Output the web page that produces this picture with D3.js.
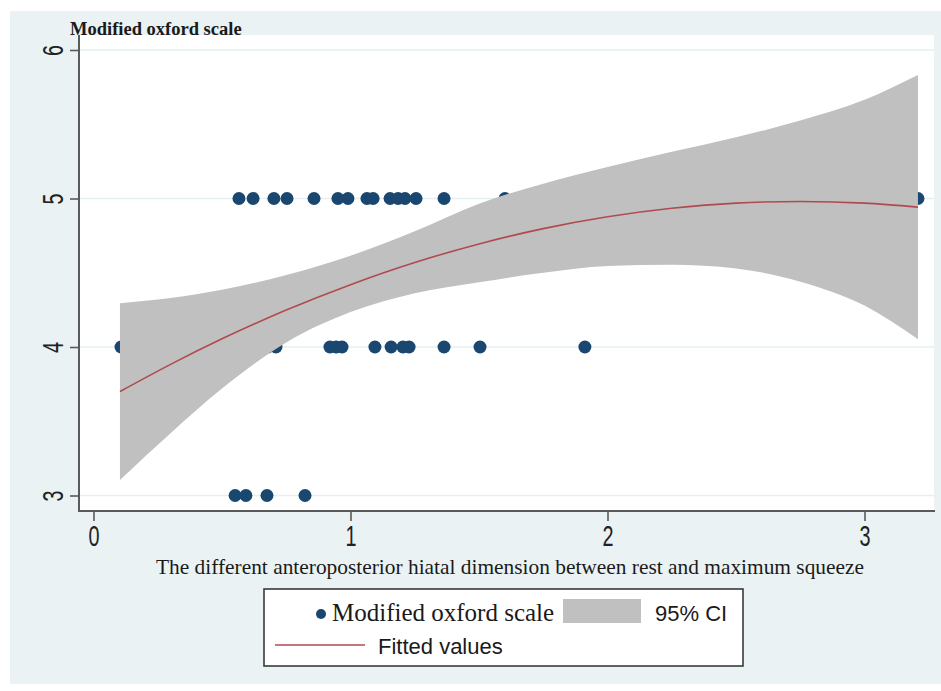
<!DOCTYPE html>
<html>
<head>
<meta charset="utf-8">
<script src="https://cdn.jsdelivr.net/npm/d3@7"></script>
<style>
  html, body { margin: 0; padding: 0; background: #ffffff; }
  svg { display: block; }
</style>
</head>
<body>
<svg id="chart" width="941" height="691"></svg>
<script>
// Observed pairs: hiatal dimension difference vs. modified Oxford scale
const dimensionDiff = [
  0.566, 0.621, 0.702, 0.753, 0.858, 0.951, 0.990, 1.064, 1.088, 1.154, 1.185, 1.212, 1.255, 1.364, 1.601, 3.208,
  0.107, 0.679, 0.710, 0.920, 0.944, 0.967, 1.095, 1.158, 1.204, 1.228, 1.364, 1.504, 1.912,
  0.551, 0.593, 0.675, 0.823
];
const oxfordScale = [
  5, 5, 5, 5, 5, 5, 5, 5, 5, 5, 5, 5, 5, 5, 5, 5,
  4, 4, 4, 4, 4, 4, 4, 4, 4, 4, 4, 4, 4,
  3, 3, 3, 3
];

// Quadratic fit with its 95% confidence band, sampled along x
const fitX     = [0.103, 0.3, 0.5, 0.75, 1.0, 1.25, 1.5, 1.75, 2.0, 2.25, 2.5, 2.75, 3.0, 3.208];
const fitted   = [3.700, 3.883, 4.055, 4.249, 4.420, 4.569, 4.694, 4.797, 4.877, 4.934, 4.969, 4.980, 4.969, 4.942];
const ciUpper  = [4.295, 4.330, 4.385, 4.485, 4.615, 4.780, 4.965, 5.100, 5.212, 5.314, 5.412, 5.525, 5.665, 5.832];
const ciLower  = [3.105, 3.420, 3.720, 4.030, 4.235, 4.362, 4.436, 4.500, 4.545, 4.554, 4.529, 4.440, 4.279, 4.052];

const xTicks = [0, 1, 2, 3];
const yTicks = [3, 4, 5, 6];

const yTitle = "Modified oxford scale";
const xTitle = "The different anteroposterior hiatal dimension between rest and maximum squeeze";
const legendLabels = ["Modified oxford scale", "95% CI", "Fitted values"];

const colors = {
  outer: "#eaf2f3",
  grid: "#e6eff1",
  axis: "#5a5a5a",
  dot: "#1a476f",
  ci: "#c0c0c0",
  fit: "#b04a50"
};

const svg = d3.select("#chart");

// plot frame
const plot = { left: 79, right: 934, top: 35, bottom: 511 };

const x = d3.scaleLinear().domain([0, 3]).range([93.5, 864.5]);
const y = d3.scaleLinear().domain([3, 6]).range([495.5, 50]);

// outer panel and plot region
svg.append("rect").attr("x", 10).attr("y", 11).attr("width", 931).attr("height", 673).attr("fill", colors.outer);
svg.append("rect").attr("x", plot.left).attr("y", plot.top)
  .attr("width", plot.right - plot.left).attr("height", plot.bottom - plot.top).attr("fill", "#ffffff");

// horizontal grid
svg.append("g").selectAll("line").data(yTicks).join("line")
  .attr("x1", plot.left + 1).attr("x2", plot.right)
  .attr("y1", d => y(d)).attr("y2", d => y(d))
  .attr("stroke", colors.grid).attr("stroke-width", 1.6);

// scatter points
svg.append("g").selectAll("circle").data(dimensionDiff).join("circle")
  .attr("cx", d => x(d))
  .attr("cy", (d, i) => y(oxfordScale[i]))
  .attr("r", 6.5)
  .attr("fill", colors.dot);

// confidence band
const band = fitX.map((v, i) => ({ x: v, lo: ciLower[i], hi: ciUpper[i], f: fitted[i] }));
svg.append("path").datum(band)
  .attr("d", d3.area().curve(d3.curveMonotoneX)
    .x(d => x(d.x)).y0(d => y(d.lo)).y1(d => y(d.hi)))
  .attr("fill", colors.ci);

// fitted line
svg.append("path").datum(band)
  .attr("d", d3.line().curve(d3.curveMonotoneX).x(d => x(d.x)).y(d => y(d.f)))
  .attr("fill", "none").attr("stroke", colors.fit).attr("stroke-width", 1.6);

// axes lines
svg.append("line").attr("x1", plot.left).attr("x2", plot.left)
  .attr("y1", plot.top).attr("y2", plot.bottom + 1)
  .attr("stroke", colors.axis).attr("stroke-width", 2);
svg.append("line").attr("x1", plot.left).attr("x2", plot.right + 1)
  .attr("y1", plot.bottom).attr("y2", plot.bottom)
  .attr("stroke", colors.axis).attr("stroke-width", 2);

const tickFont = "'Liberation Sans Narrow', 'Liberation Sans', Arial, sans-serif";

// x axis ticks and condensed labels
const xAxis = svg.append("g").attr("transform", `translate(0,${plot.bottom})`)
  .call(d3.axisBottom(x).tickValues(xTicks).tickSize(10).tickFormat(d3.format("d")));
xAxis.select(".domain").remove();
xAxis.selectAll(".tick line").attr("stroke", colors.axis).attr("stroke-width", 1.6);
xAxis.selectAll(".tick text")
  .attr("font-family", tickFont)
  .attr("font-size", 30).attr("fill", "#222")
  .attr("y", 0).attr("dy", null)
  .attr("transform", "translate(0,35) scale(0.66,1)");

// y axis ticks and rotated labels
const yAxis = svg.append("g").attr("transform", `translate(${plot.left},0)`)
  .call(d3.axisLeft(y).tickValues(yTicks).tickSize(9).tickFormat(d3.format("d")));
yAxis.select(".domain").remove();
yAxis.selectAll(".tick line").attr("stroke", colors.axis).attr("stroke-width", 1.6);
yAxis.selectAll(".tick text")
  .attr("font-family", tickFont)
  .attr("font-size", 29).attr("fill", "#222")
  .attr("text-anchor", "middle")
  .attr("x", null).attr("dy", null)
  .attr("transform", "translate(-16,0) rotate(-90) scale(0.68,1)");

// titles
svg.append("text").attr("x", 70).attr("y", 35)
  .attr("font-family", "'Liberation Serif', 'Times New Roman', serif")
  .attr("font-weight", "bold").attr("font-size", 18.5).attr("fill", "#1a1a1a")
  .text(yTitle);

svg.append("text").attr("x", 510).attr("y", 574)
  .attr("text-anchor", "middle")
  .attr("font-family", "'Liberation Serif', 'Times New Roman', serif")
  .attr("font-size", 21).attr("fill", "#1a1a1a")
  .attr("textLength", 708).attr("lengthAdjust", "spacingAndGlyphs")
  .text(xTitle);

// legend
const lg = svg.append("g");
lg.append("rect").attr("x", 264).attr("y", 589).attr("width", 479).attr("height", 77)
  .attr("fill", "#ffffff").attr("stroke", "#3a3a3a").attr("stroke-width", 1.6);
lg.append("circle").attr("cx", 321).attr("cy", 614).attr("r", 5).attr("fill", colors.dot);
lg.append("text").attr("x", 332).attr("y", 621)
  .attr("font-family", "'Liberation Serif', 'Times New Roman', serif")
  .attr("font-size", 25).attr("fill", "#1a1a1a")
  .text(legendLabels[0]);
lg.append("rect").attr("x", 563).attr("y", 599).attr("width", 78).attr("height", 24).attr("fill", colors.ci);
lg.append("text").attr("x", 655).attr("y", 621)
  .attr("font-family", "'Liberation Sans', Arial, sans-serif")
  .attr("font-size", 22).attr("fill", "#1a1a1a")
  .text(legendLabels[1]);
lg.append("line").attr("x1", 275).attr("x2", 365).attr("y1", 645).attr("y2", 645)
  .attr("stroke", colors.fit).attr("stroke-width", 1.6);
lg.append("text").attr("x", 378).attr("y", 654)
  .attr("font-family", "'Liberation Sans', Arial, sans-serif")
  .attr("font-size", 22).attr("fill", "#1a1a1a")
  .text(legendLabels[2]);
</script>
</body>
</html>
